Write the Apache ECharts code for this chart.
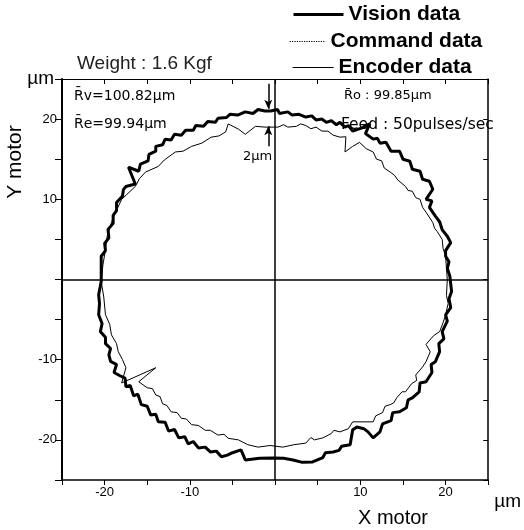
<!DOCTYPE html>
<html>
<head>
<meta charset="utf-8">
<script src="https://cdn.jsdelivr.net/npm/echarts@6/dist/echarts.min.js"></script>
<style>html,body{margin:0;padding:0;background:#fff;}#c{width:524px;height:530px;}</style>
</head>
<body>
<div id="c"></div>
<script>
// Series names
var seriesNames = ['Vision data', 'Command data', 'Encoder data'];
// Axis tick labels shown
var xTickLabels = [-20, -10, 10, 20];
var yTickLabels = [-20, -10, 10, 20];
// Vision data (thick), [x, y] in µm, traced clockwise from top
var visionData = [
[-0.5,21],[0.3,21.2],[0.5,20.7],[1.5,20.9],[2.0,20.5],[2.8,20.6],[3.6,20.25],[4.3,20.4],[4.8,19.9],[5.5,20.0],
[6.0,19.6],[6.6,19.8],[7.2,19.3],[7.6,19.6],[8.2,19.0],[8.6,19.2],[9.1,18.5],[10.2,18.9],[11.1,19.4],[10.6,18.2],
[11.5,17.5],[12.0,17.6],[12.3,17.0],[13.0,17.1],[13.6,16.0],[14.6,16.0],[15.0,15.0],[15.8,14.75],[16.1,13.75],[17.0,13.5],
[17.3,12.5],[18.1,12.25],[18.5,11.25],[17.7,10.0],[18.4,9.8],[18.1,9.0],[18.8,7.9],[19.3,7.2],[19.6,6.2],[20.2,5.4],
[20.6,4.6],[20.0,3.6],[20.0,2.9],[20.4,2.2],[20.2,1.4],[20.5,0.4],[20.7,-1.5],[20.4,-2.4],[20.6,-3.5],[20.0,-4.4],
[20.2,-5.2],[19.6,-6.5],[19.8,-7.4],[19.2,-8.0],[19.3,-9.0],[18.8,-10.25],[18.3,-10.6],[18.4,-11.6],[17.7,-12.75],[17.0,-12.9],
[16.9,-14.0],[16.1,-14.75],[15.6,-15.0],[15.4,-16.0],[14.6,-16.5],[13.8,-16.6],[13.6,-17.6],[12.6,-18.0],[12.3,-19.0],[11.5,-19.75],
[10.9,-19.0],[10.4,-18.6],[9.6,-18.4],[9.1,-18.75],[8.8,-20.6],[7.8,-20.8],[7.5,-21.3],[6.8,-21.5],[5.9,-21.6],[5.6,-22.2],
[4.4,-22.75],[3.2,-22.8],[2.1,-22.5],[1.0,-22.3],[-0.2,-22.25],[-1.8,-22.3],[-3.5,-22.5],[-4.0,-21.25],[-5.0,-21.6],[-5.6,-21.9],
[-6.3,-22.1],[-6.9,-21.4],[-7.6,-21.5],[-8.2,-20.9],[-9.0,-21.0],[-9.6,-20.2],[-10.2,-20.5],[-10.6,-19.6],[-11.3,-19.75],[-11.8,-18.7],
[-12.5,-18.9],[-12.9,-17.8],[-13.7,-17.75],[-14.0,-16.8],[-14.6,-16.9],[-15.0,-15.8],[-15.7,-15.6],[-16.1,-14.3],[-16.6,-14.5],[-17.0,-13.2],
[-17.5,-13.4],[-17.6,-12.3],[-18.2,-12.0],[-18.9,-11.6],[-18.6,-10.6],[-19.3,-10.2],[-19.5,-9.4],[-19.3,-8.6],[-19.9,-8.0],[-19.9,-7.2],
[-20.5,-6.5],[-20.3,-5.5],[-20.7,-4.4],[-20.6,-3.0],[-20.7,-1.9],[-20.4,-0.25],[-20.4,1.5],[-20.4,2.9],[-19.9,3.6],[-20.0,4.5],
[-19.5,5.2],[-19.6,6.25],[-19.0,7.0],[-19.0,8.0],[-18.6,8.6],[-18.6,9.6],[-17.9,10.4],[-17.8,11.2],[-17.5,11.6],[-16.4,11.9],
[-17.2,14],[-16,13.5],[-15.8,14.4],[-14.9,14.8],[-14.8,15.6],[-14,16.0],[-14,16.6],[-13.2,16.8],[-12.9,17.5],[-12.2,17.4],
[-11.8,18.1],[-11.0,18.0],[-10.5,18.6],[-9.6,18.6],[-9.3,19.2],[-8.4,19.1],[-7.9,19.7],[-7.0,19.6],[-6.7,20.1],[-5.7,20.2],
[-5.3,20.6],[-4.4,20.5],[-3.5,20.9],[-2.6,20.7],[-2.0,21.2],[-1.2,21.0],[-0.5,21]
];
// Command data (dotted) - lies under the encoder trace, not separately readable
var commandData = [];
// Encoder data (thin), [x, y] in µm
var encoderData = [
[0.35,19],[1.0,19.3],[1.5,19.0],[2.5,19.1],[3.0,19.4],[3.6,19.2],[4.2,18.8],[4.8,19.0],[5.5,18.5],[6.2,18.5],
[6.8,18.0],[7.6,17.75],[8.3,17.8],[8.2,15.9],[9.1,16.6],[9.9,17.1],[10.7,16.3],[11.5,15.9],[11.9,15.0],[12.5,14.8],
[12.8,13.9],[13.5,13.4],[14.0,13.0],[14.4,12.4],[15.3,11.6],[15.6,11.1],[16.1,11.0],[16.5,10.2],[17,10],[17.3,9.0],
[17.7,8.4],[18.5,7.1],[18.7,6.4],[19.0,6.0],[19.6,5],[19.7,3.9],[20,2.9],[20.1,1.4],[20.2,0],[20.1,-2.0],
[20.3,-3.0],[20,-4.4],[19.7,-5.4],[19.3,-6.5],[18.6,-7.0],[17.7,-8.1],[18.2,-9.0],[17.7,-10.25],[17.3,-10.9],[16.5,-11.9],
[16.6,-12.6],[16.0,-13.0],[15.3,-14],[14.9,-14.0],[14.3,-14.7],[13.9,-15.4],[13.5,-15.6],[12.9,-15.8],[12.6,-16.6],[11.8,-17.0],
[11.5,-17.75],[9.1,-17.75],[8.6,-18.6],[7.6,-19],[6.9,-18.8],[6.6,-19.2],[5.6,-19.75],[4.6,-20.0],[4.2,-19.7],[3.6,-20.4],
[2.2,-20.6],[0.9,-20.9],[-0.6,-20.7],[-2,-20.9],[-3.2,-20.6],[-4.3,-20],[-5.5,-19.8],[-6.0,-19.3],[-6.7,-19.4],[-7.6,-18.8],
[-8.2,-18.8],[-9.0,-18.2],[-9.8,-18.1],[-10.4,-17.4],[-11.0,-17.3],[-11.5,-16.6],[-12.2,-16.5],[-12.7,-15.7],[-13.2,-15.5],[-13.5,-14.6],
[-14,-14.4],[-14.4,-13.6],[-15.0,-13.5],[-16,-12.75],[-14,-11],[-18,-12.9],[-17.5,-11],[-17.9,-10.0],[-18.4,-9.0],[-18.6,-8.0],
[-19.2,-6.9],[-19.4,-5.6],[-19.9,-4.4],[-20.1,-2.2],[-20.4,-0.25],[-20.2,1.8],[-19.9,3.75],[-19.7,5.4],[-19.2,7.1],[-18.8,8.2],
[-18,10],[-17.4,10.6],[-16.4,11.6],[-15.9,12.6],[-15.2,13.4],[-13.7,14.1],[-13.0,14.9],[-11.7,15.9],[-10.8,16.0],[-9.8,16.6],
[-8.6,17.0],[-7.5,17.75],[-6.6,17.9],[-5.8,18.4],[-5.5,19.4],[-4.3,18.75],[-3.5,18.1],[-2.3,19.1],[-1.2,19],[0.35,19]
];
// Annotation texts
var weightText = 'Weight : 1.6 Kgf';
var rvText = 'R\u0304v=100.82\u00b5m';
var reText = 'R\u0304e=99.94\u00b5m';
var roText = 'R\u0304o : 99.85\u00b5m';
var feedText = 'Feed : 50pulses/sec';
var gapText = '2\u00b5m';

var chart = echarts.init(document.getElementById('c'), null, {renderer:'canvas'});
var axisFont = 'Arial, "Liberation Sans", sans-serif';
function mkLegend(name, left, top, w, lw, lt) {
  return {
    data:[name], left:left, top:top, orient:'horizontal', padding:0,
    itemWidth:w, itemHeight:12, itemGap:5,
    selectedMode:false,
    itemStyle:{opacity:0},
    lineStyle:{color:'#000', width:lw, type:lt},
    textStyle:{fontFamily:axisFont, fontWeight:'bold', fontSize:21, color:'#000'}
  };
}
var baseX = {type:'value', min:-25, max:25, interval:5, splitLine:{show:false}};
var baseY = {type:'value', min:-25, max:25, interval:5, splitLine:{show:false}};
var option = {
  animation:false,
  backgroundColor:'#fff',
  grid:{left:62, right:34, top:79, bottom:50},
  legend:[
    mkLegend(seriesNames[0], 292, 4, 50, 3, 'solid'),
    mkLegend(seriesNames[1], 289, 31, 36, 1.2, 'dotted'),
    mkLegend(seriesNames[2], 292, 57, 41, 1.2, 'solid')
  ],
  xAxis:[
    Object.assign({}, baseX, {
      position:'bottom',
      name:'\u00b5m', nameLocation:'end', nameGap:6,
      nameTextStyle:{fontFamily:axisFont, fontSize:19, color:'#000', verticalAlign:'top', align:'left', padding:[12,0,0,0]},
      axisLine:{show:true, onZero:false, lineStyle:{color:'#000', width:1.5}},
      axisTick:{show:true, inside:false, length:5, lineStyle:{color:'#000'}},
      axisLabel:{show:true, margin:6, fontFamily:axisFont, fontSize:13, color:'#000',
        formatter:function(v){ return xTickLabels.indexOf(v) >= 0 ? String(v) : ''; }}
    }),
    Object.assign({}, baseX, {
      position:'top',
      axisLine:{show:true, onZero:false, lineStyle:{color:'#000', width:1.2}},
      axisTick:{show:true, inside:true, length:5, lineStyle:{color:'#000'}},
      axisLabel:{show:false}
    })
  ],
  yAxis:[
    Object.assign({}, baseY, {
      position:'left',
      name:'\u00b5m', nameLocation:'end', nameGap:0,
      nameTextStyle:{fontFamily:axisFont, fontSize:19, color:'#000', align:'right', verticalAlign:'middle', padding:[0,8,0,0]},
      axisLine:{show:true, onZero:false, lineStyle:{color:'#000', width:2}},
      axisTick:{show:true, inside:false, length:7, lineStyle:{color:'#000'}},
      axisLabel:{show:true, margin:5, fontFamily:axisFont, fontSize:13, color:'#000',
        formatter:function(v){ return yTickLabels.indexOf(v) >= 0 ? String(v) : ''; }}
    }),
    Object.assign({}, baseY, {
      position:'right',
      axisLine:{show:true, onZero:false, lineStyle:{color:'#000', width:1.5}},
      axisTick:{show:true, inside:true, length:5, lineStyle:{color:'#000'}},
      axisLabel:{show:false}
    })
  ],
  series:[
    {
      name:seriesNames[0], type:'line', xAxisIndex:0, yAxisIndex:0,
      data:visionData, symbol:'none', smooth:false,
      lineStyle:{color:'#000', width:3}, itemStyle:{color:'#000'},
      z:3,
      markLine:{
        silent:true, symbol:'none', animation:false,
        label:{show:false},
        lineStyle:{color:'#000', width:1.5, type:'solid'},
        data:[
          {xAxis:0},
          {yAxis:0},
          [{coord:[-0.8,24.4], symbol:'none'},{coord:[-0.8,21.3], symbol:'arrow', symbolSize:[6,9]}],
          [{coord:[-0.8,16.6], symbol:'none'},{coord:[-0.8,19.1], symbol:'arrow', symbolSize:[6,9]}]
        ]
      }
    },
    {
      name:seriesNames[1], type:'line', xAxisIndex:0, yAxisIndex:0,
      data:commandData, symbol:'none',
      lineStyle:{color:'#000', width:1.2, type:'dotted'}, itemStyle:{color:'#000'}
    },
    {
      name:seriesNames[2], type:'line', xAxisIndex:0, yAxisIndex:0,
      data:encoderData, symbol:'none', smooth:false,
      lineStyle:{color:'#000', width:1}, itemStyle:{color:'#000'},
      z:4
    }
  ],
  graphic:[
    {type:'text', left:77, top:54, style:{text:weightText, font:'19px Arial, "Liberation Sans", sans-serif', fill:'#222'}},
    {type:'text', left:74, top:89, style:{text:rvText, font:'14px "DejaVu Sans", sans-serif', fill:'#000'}},
    {type:'text', left:74, top:117, style:{text:reText, font:'14px "DejaVu Sans", sans-serif', fill:'#000'}},
    {type:'text', left:344, top:89, style:{text:roText, font:'13px "DejaVu Sans", sans-serif', fill:'#000'}},
    {type:'text', left:341, top:117, style:{text:feedText, font:'15.5px "DejaVu Sans", sans-serif', fill:'#000'}},
    {type:'text', left:243, top:150, style:{text:gapText, font:'13px "DejaVu Sans", sans-serif', fill:'#000'}},
    {type:'text', left:358, top:508, style:{text:'X motor', font:'20px Arial, "Liberation Sans", sans-serif', fill:'#000'}},
    {type:'text', x:15, y:162, rotation:Math.PI/2, style:{text:'Y motor', font:'21px Arial, "Liberation Sans", sans-serif', fill:'#000', align:'center', verticalAlign:'middle'}}
  ]
};
chart.setOption(option);
</script>
</body>
</html>
